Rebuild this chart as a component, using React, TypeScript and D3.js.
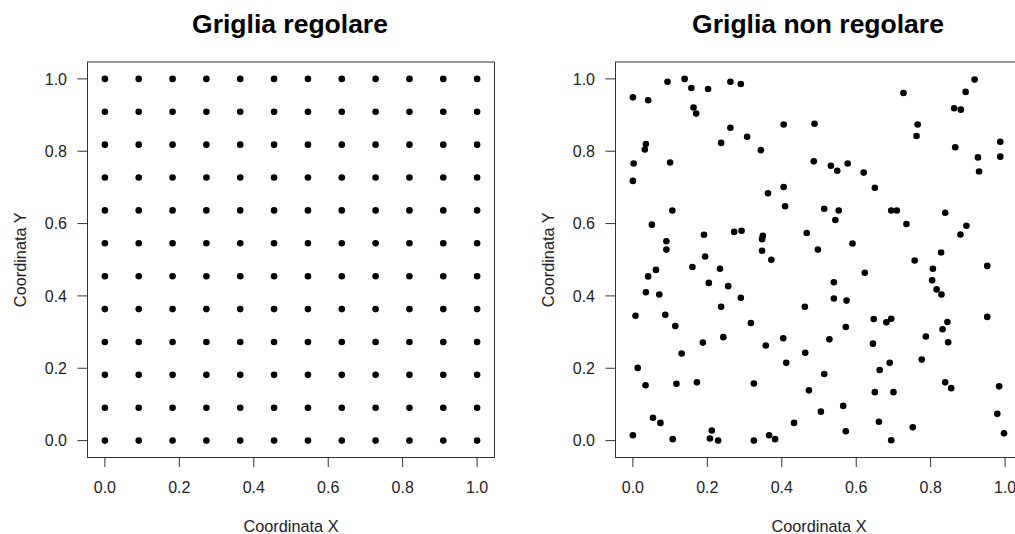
import React from "react";
import * as d3 from "d3";

// Regular 12 x 12 grid coordinates on [0, 1]
const gridValues = [0, 0.0909, 0.1818, 0.2727, 0.3636, 0.4545, 0.5455, 0.6364, 0.7273, 0.8182, 0.9091, 1];

// Irregular sample: x and y coordinates of 144 scattered locations
const randomX = [
  0.0, 0.041, 0.093, 0.139, 0.157, 0.202, 0.262, 0.29, 0.163, 0.17, 0.262, 0.237, 0.307, 0.344, 0.405, 0.488,
  0.035, 0.032, 0.002, 0.1, 0.0, 0.363, 0.405, 0.486,
  0.727, 0.918, 0.894, 0.863, 0.881, 0.765, 0.762, 0.866, 0.987, 0.987, 0.927, 0.93,
  0.532, 0.549, 0.577, 0.62, 0.65,
  0.409, 0.106, 0.051, 0.191, 0.272, 0.292, 0.349, 0.347, 0.467, 0.09, 0.09, 0.347, 0.372, 0.497, 0.194, 0.16,
  0.234, 0.062, 0.041, 0.204, 0.256, 0.035, 0.071, 0.29, 0.237, 0.462, 0.007, 0.087, 0.114, 0.317,
  0.514, 0.553, 0.544, 0.694, 0.709, 0.839, 0.735, 0.896, 0.88, 0.59,
  0.828, 0.757, 0.952, 0.806, 0.623, 0.804, 0.54, 0.816, 0.829, 0.54, 0.574, 0.647, 0.681, 0.694, 0.845, 0.952,
  0.572, 0.832,
  0.243, 0.188, 0.404, 0.357, 0.131, 0.463, 0.412, 0.013, 0.034, 0.117, 0.172, 0.325, 0.473, 0.054, 0.074, 0.433,
  0.0, 0.212, 0.107, 0.207, 0.229, 0.325, 0.366, 0.382,
  0.528, 0.645, 0.787, 0.847, 0.776, 0.69, 0.663, 0.514,
  0.65, 0.7, 0.839, 0.855, 0.984, 0.565, 0.505, 0.979, 0.661, 0.752, 0.572, 0.694, 0.997,
];
const randomY = [
  0.949, 0.941, 0.992, 1.0, 0.975, 0.972, 0.992, 0.986, 0.921, 0.904, 0.865, 0.823, 0.84, 0.803, 0.874, 0.876,
  0.82, 0.805, 0.766, 0.769, 0.718, 0.684, 0.701, 0.772,
  0.961, 0.998, 0.964, 0.919, 0.915, 0.874, 0.842, 0.811, 0.826, 0.785, 0.783, 0.744,
  0.76, 0.746, 0.766, 0.741, 0.699,
  0.648, 0.636, 0.597, 0.569, 0.577, 0.58, 0.566, 0.557, 0.574, 0.551, 0.528, 0.525, 0.5, 0.528, 0.509, 0.48,
  0.475, 0.472, 0.454, 0.436, 0.427, 0.41, 0.404, 0.395, 0.37, 0.37, 0.345, 0.348, 0.317, 0.325,
  0.641, 0.636, 0.61, 0.636, 0.636, 0.63, 0.599, 0.594, 0.57, 0.545,
  0.52, 0.498, 0.483, 0.475, 0.464, 0.443, 0.438, 0.418, 0.404, 0.393, 0.387, 0.336, 0.327, 0.337, 0.328, 0.342,
  0.314, 0.308,
  0.286, 0.271, 0.283, 0.263, 0.241, 0.243, 0.215, 0.201, 0.153, 0.157, 0.161, 0.158, 0.139, 0.063, 0.049, 0.049,
  0.015, 0.028, 0.004, 0.006, 0.0, 0.0, 0.015, 0.004,
  0.28, 0.268, 0.288, 0.272, 0.224, 0.215, 0.195, 0.184,
  0.134, 0.134, 0.161, 0.145, 0.15, 0.096, 0.08, 0.074, 0.052, 0.037, 0.026, 0.001, 0.02,
];

const axisTicks = [0, 0.2, 0.4, 0.6, 0.8, 1.0];
const panelTitles = ["Griglia regolare", "Griglia non regolare"];
const xLabel = "Coordinata X";
const yLabel = "Coordinata Y";

const W = 1015;
const H = 534;
const FONT = "'Liberation Sans', Arial, Helvetica, sans-serif";
const PAD = 0.0467;

const boxW = 407;
const boxH = 395.5;
const boxTop = 62;
const panelLefts = [87.5, 615.5];

type Pt = { x: number; y: number };

const gridPoints: Pt[] = gridValues.flatMap((gy) => gridValues.map((gx) => ({ x: gx, y: gy })));
const randomPoints: Pt[] = randomX.map((x, i) => ({ x, y: randomY[i] }));

function Panel({ left, title, points, clipId }: { left: number; title: string; points: Pt[]; clipId: string }) {
  const x = d3.scaleLinear().domain([-PAD, 1 + PAD]).range([left, left + boxW]);
  const y = d3.scaleLinear().domain([-PAD, 1 + PAD]).range([boxTop + boxH, boxTop]);
  const fmt = d3.format(".1f");
  const bottom = boxTop + boxH;
  const cx = left + boxW / 2;
  const cy = boxTop + boxH / 2;
  const axisColor = "#333";
  const textColor = "#222";
  return (
    <g>
      <defs>
        <clipPath id={clipId}>
          <rect x={left - 10} y={boxTop - 10} width={boxW + 20} height={boxH + 20} />
        </clipPath>
      </defs>
      <text x={cx - 1} y={32.5} textAnchor="middle" fontFamily={FONT} fontWeight="bold" fontSize={26.5} fill="#000">
        {title}
      </text>
      <rect x={left} y={boxTop} width={boxW} height={boxH} fill="none" stroke={axisColor} strokeWidth={1} />
      {/* x axis */}
      {axisTicks.map((t) => (
        <g key={"xt" + t}>
          <line x1={x(t)} x2={x(t)} y1={bottom} y2={bottom + 9.5} stroke={axisColor} strokeWidth={1} />
          <text x={x(t)} y={493} textAnchor="middle" fontFamily={FONT} fontSize={16} fill={textColor}>
            {fmt(t)}
          </text>
        </g>
      ))}
      {/* y axis */}
      {axisTicks.map((t) => (
        <g key={"yt" + t}>
          <line x1={left - 10} x2={left} y1={y(t)} y2={y(t)} stroke={axisColor} strokeWidth={1} />
          <text x={left - 20.5} y={y(t)} dy="0.36em" textAnchor="end" fontFamily={FONT} fontSize={16} fill={textColor}>
            {fmt(t)}
          </text>
        </g>
      ))}
      <text x={cx} y={532} textAnchor="middle" fontFamily={FONT} fontSize={16.3} fill={textColor}>
        {xLabel}
      </text>
      <text
        transform={`translate(${left - 62},${cy}) rotate(-90)`}
        textAnchor="middle"
        fontFamily={FONT}
        fontSize={16.3}
        fill={textColor}
      >
        {yLabel}
      </text>
      <g clipPath={`url(#${clipId})`}>
        {points.map((p, i) => (
          <circle key={i} cx={x(p.x)} cy={y(p.y)} r={3.3} fill="#000" />
        ))}
      </g>
    </g>
  );
}

export default function App() {
  return (
    <svg
      width={W}
      height={H}
      viewBox={`0 0 ${W} ${H}`}
      style={{ position: "absolute", left: 0, top: 0, background: "#fff", overflow: "hidden" }}
    >
      <rect x={0} y={0} width={W} height={H} fill="#fff" />
      <Panel left={panelLefts[0]} title={panelTitles[0]} points={gridPoints} clipId="clipA" />
      <Panel left={panelLefts[1]} title={panelTitles[1]} points={randomPoints} clipId="clipB" />
    </svg>
  );
}
